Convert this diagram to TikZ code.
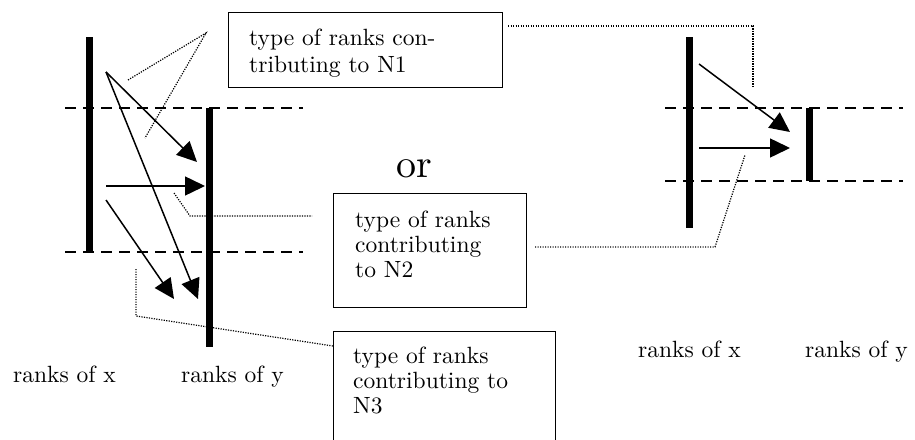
\documentclass[tikz,border=0pt]{standalone}
\usepackage{fontspec}
\setmainfont{lmroman10-regular.otf}
\usetikzlibrary{arrows.meta}
\newcommand\mylblfont{\fontsize{23.5}{27}\selectfont}
\begin{document}
\begin{tikzpicture}[x=1pt,y=-1pt,
  bar/.style={line width=7pt},
  guide/.style={line width=1.3pt, dash pattern=on 11pt off 7pt},
  arr/.style={line width=1.5pt, -{Triangle[length=20pt,width=19pt]}},
  dots/.style={line width=1.2pt, dash pattern=on 1.2pt off 1.3pt},
  box/.style={draw, line width=1.3pt, anchor=north west, inner sep=0pt},
  lbl/.style={anchor=base west, inner sep=0pt, font=\mylblfont},
]
\useasboundingbox (0,0) rectangle (915,439);
\clip (0,0) rectangle (915,439);

% ---------- left diagram ----------
\draw[guide] (65,108) -- (303,108);
\draw[guide] (65,252) -- (303,252);
\coordinate (xbt) at (89,37);  \coordinate (xbb) at (89,252);
\coordinate (ybt) at (209,108); \coordinate (ybb) at (209,347);
\draw[bar] (xbt) -- (xbb);
\draw[bar] (ybt) -- (ybb);

\coordinate (s1) at (106,72);
\coordinate (e1) at (197,162);
\coordinate (e2) at (198,299);
\coordinate (s3) at (106,186);
\coordinate (e3) at (205,186);
\coordinate (s4) at (106,200);
\coordinate (e4) at (174,299);
\draw[arr] (s1) -- (e1);
\draw[arr] (s1) -- (e2);
\draw[arr] (s3) -- (e3);
\draw[arr] (s4) -- (e4);

% ---------- right diagram ----------
\draw[guide] (665,108) -- (903,108);
\draw[guide] (665,181) -- (903,181);
\coordinate (rxt) at (689,37);  \coordinate (rxb) at (689,228);
\coordinate (ryt) at (809,108); \coordinate (ryb) at (809,181);
\draw[bar] (rxt) -- (rxb);
\draw[bar] (ryt) -- (ryb);
\coordinate (rs1) at (699,64);  \coordinate (re1) at (790,132);
\coordinate (rs2) at (699,148); \coordinate (re2) at (790,148);
\draw[arr] (rs1) -- (re1);
\draw[arr] (rs2) -- (re2);

% ---------- boxes ----------
\node[box, minimum width=274pt, minimum height=75pt] (n1) at (228,12) {};
\node[box, minimum width=193pt, minimum height=114pt] (n2) at (333,193) {};
\node[box, minimum width=222pt, minimum height=130pt] (n3) at (333,331) {};

\node[lbl] (n1a) at (249,45) {type of ranks con-};
\node[lbl] (n1b) at (249,72) {tributing to N1};
\node[lbl] (n2a) at (355,227) {type of ranks};
\node[lbl] (n2b) at (355,252) {contributing};
\node[lbl] (n2c) at (355,277) {to N2};
\node[lbl] (n3a) at (353,363) {type of ranks};
\node[lbl] (n3b) at (353,388) {contributing to};
\node[lbl] (n3c) at (353,413) {N3};

% ---------- dotted leaders ----------
\coordinate (d1a) at (128,80);
\coordinate (d1b) at (206,33);
\coordinate (d1c) at (145,138);
\draw[dots] (d1a) -- (d1b) -- (d1c);
\coordinate (d1r) at (508,26);
\coordinate (d1k) at (753,26);
\coordinate (d1e) at (753,88);
\draw[dots] (d1r) -- (d1k) -- (d1e);

\coordinate (d2a) at (174,193);
\coordinate (d2b) at (190,216);
\coordinate (d2c) at (312,216);
\draw[dots] (d2a) -- (d2b) -- (d2c);
\coordinate (d2r) at (535,247);
\coordinate (d2k) at (715,247);
\coordinate (d2e) at (745,155);
\draw[dots] (d2r) -- (d2k) -- (d2e);

\coordinate (d3a) at (136,269);
\coordinate (d3b) at (136,316);
\coordinate (d3c) at (333,346);
\draw[dots] (d3a) -- (d3b) -- (d3c);

% ---------- labels ----------
\node[anchor=base, inner sep=0pt, font=\fontsize{40}{48}\selectfont] (or) at (414,177) {or};
\node[lbl] (lx) at (13,382) {ranks of x};
\node[lbl] (ly) at (181,382) {ranks of y};
\node[lbl] (rx) at (638,357) {ranks of x};
\node[lbl] (ry) at (805,357) {ranks of y};
\end{tikzpicture}
\end{document}
